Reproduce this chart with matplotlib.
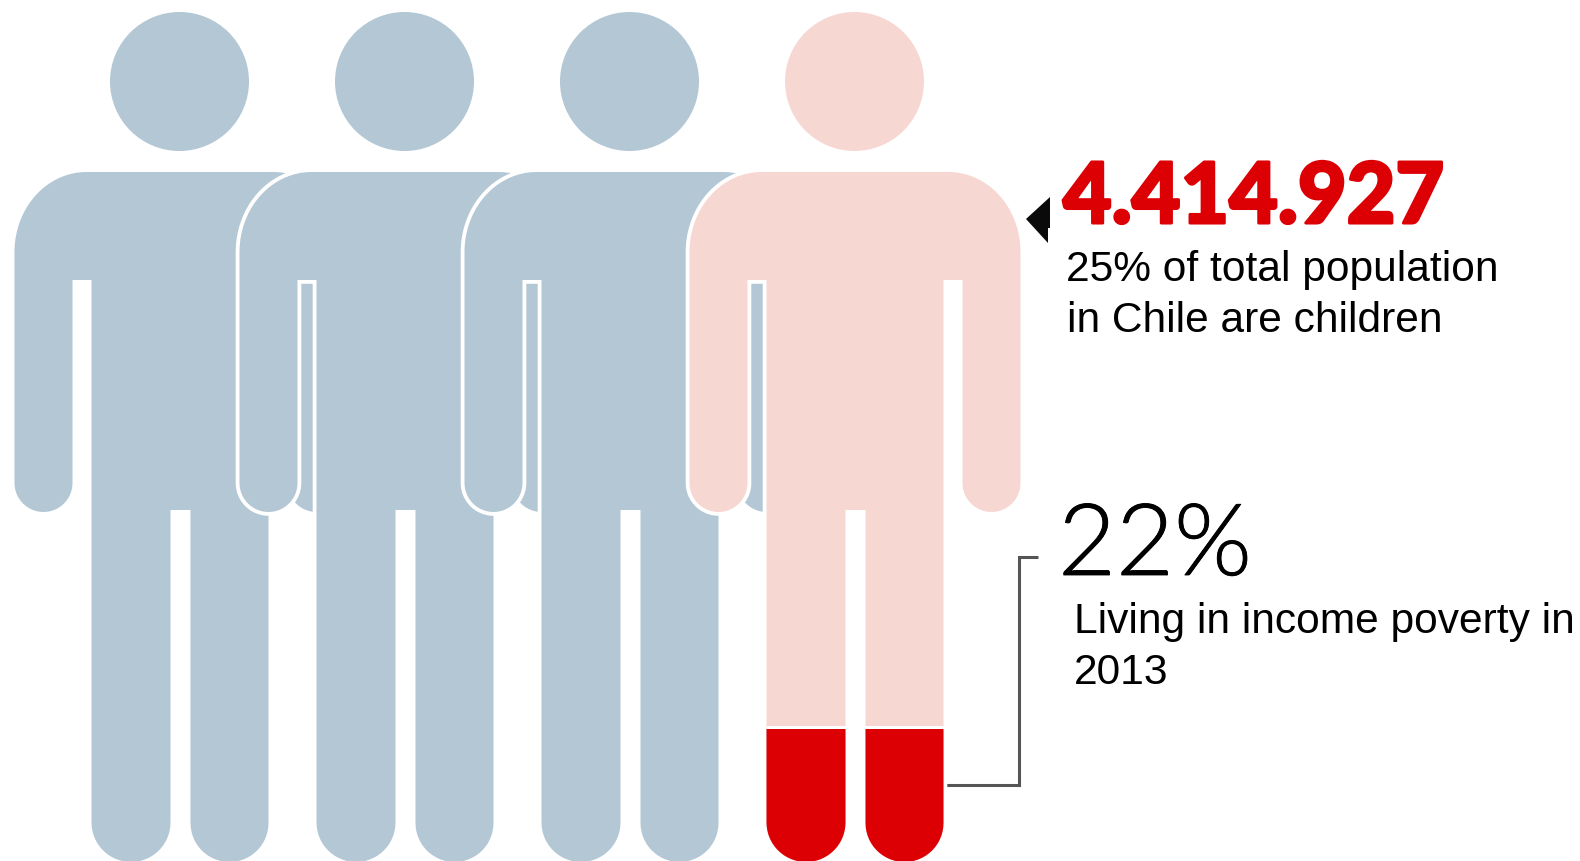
import numpy as np
import matplotlib
matplotlib.use("Agg")
import matplotlib.pyplot as plt
import matplotlib.patheffects as pe
from matplotlib.patches import Circle, Polygon

# data
people = ["child", "child", "child", "chile"]
person_colors = ["#B3C7D4", "#B3C7D4", "#B3C7D4", "#F7D7D2"]
total_label = "4.414.927"
total_text = ["25% of total population", "in Chile are children"]
poverty_label = "22%"
poverty_text = ["Living in income poverty in", "2013"]

RED = "#DC0005"
STEP = 225      # distance between two people, px
LEFT = 14.5
BODY_W = 331
TOP = 173
BOTTOM = 862
ARM = 58
TORSO_L = 77
TORSO_R = 254
CROTCH_L = 156
CROTCH_R = 176


def arc(cx, cy, r, a0, a1, n=30, ry=None):
    a = np.radians(np.linspace(a0, a1, n))
    return np.column_stack([cx + r * np.cos(a), cy + (ry or r) * np.sin(a)])


def leg_end(x0, x1):
    r = (x1 - x0) / 2
    return arc(x0 + r, BOTTOM + 1 - r, r, 0, 180)


def body_outline(x):
    # y axis points down, angles follow that
    w = BODY_W
    rx, ry = 72, 80
    pts = []
    pts.append(arc(x + rx, TOP + ry, rx, 180, 270, ry=ry))
    pts.append(arc(x + w - rx, TOP + ry, rx, 270, 360, ry=ry))
    pts.append(arc(x + w - ARM / 2, 513 - ARM / 2, ARM / 2, 0, 180))
    pts.append([[x + w - ARM, 281], [x + TORSO_R, 281]])
    pts.append(leg_end(x + CROTCH_R, x + TORSO_R))
    pts.append([[x + CROTCH_R, 511], [x + CROTCH_L, 511]])
    pts.append(leg_end(x + TORSO_L, x + CROTCH_L))
    pts.append([[x + TORSO_L, 281], [x + ARM, 281]])
    pts.append(arc(x + ARM / 2, 513 - ARM / 2, ARM / 2, 0, 180))
    return np.vstack(pts)


fig = plt.figure(figsize=(15.8, 8.62), dpi=100)
ax = fig.add_axes([0, 0, 1, 1])
ax.set_xlim(0, 1580)
ax.set_ylim(862, 0)
ax.axis("off")

for i, c in enumerate(person_colors):
    x = LEFT + i * STEP
    outline = body_outline(x)
    if i > 0:
        ax.add_patch(Polygon(outline, closed=True, fc="white", ec="white", lw=5.5, zorder=2 + i))
    ax.add_patch(Polygon(outline, closed=True, fc=c, ec="none", zorder=2 + i))
    ax.add_patch(Circle((x + 165, 82.5), 69.5, fc=c, ec="none", zorder=2 + i))

# the two red feet of the last person
x = LEFT + 3 * STEP
ax.fill_between([x + TORSO_L, x + TORSO_R], 727, 730, color="white", lw=0, zorder=7)
for x0, x1 in [(x + TORSO_L, x + CROTCH_L), (x + CROTCH_R, x + TORSO_R)]:
    foot = np.vstack([[[x0, 730], [x1, 730]], leg_end(x0, x1)])
    ax.add_patch(Polygon(foot, closed=True, fc=RED, ec="none", zorder=8))

# arrow and connector
ax.add_patch(Polygon([[1026, 220], [1050, 198], [1050, 229], [1048, 229], [1048, 244]],
                     closed=True, fc="#0A0A0A", ec="none"))
ax.plot([940, 1019, 1019, 1038], [786, 786, 558, 558], color="#555555", lw=2.2,
        solid_joinstyle="miter", solid_capstyle="butt")

big = ax.text(1063, 224, total_label, color=RED, fontsize=60.5, family="Lato", weight=900, va="baseline", ha="left")
big.set_path_effects([pe.withStroke(linewidth=2.2, foreground=RED)])
ax.text(1066, 281, total_text[0], color="black", fontsize=30.6, family="Liberation Sans", va="baseline")
ax.text(1067, 332, total_text[1], color="black", fontsize=30.6, family="Liberation Sans", va="baseline")

small = ax.text(1058, 576, poverty_label, color="black", fontsize=72, family="Lato", weight=300, va="baseline")
small.set_path_effects([pe.withStroke(linewidth=0.6, foreground="black")])
ax.text(1074, 633, poverty_text[0], color="black", fontsize=30.6, family="Liberation Sans", va="baseline")
ax.text(1074, 684, poverty_text[1], color="black", fontsize=30.6, family="Liberation Sans", va="baseline")

fig.savefig("out.png", dpi=100)
